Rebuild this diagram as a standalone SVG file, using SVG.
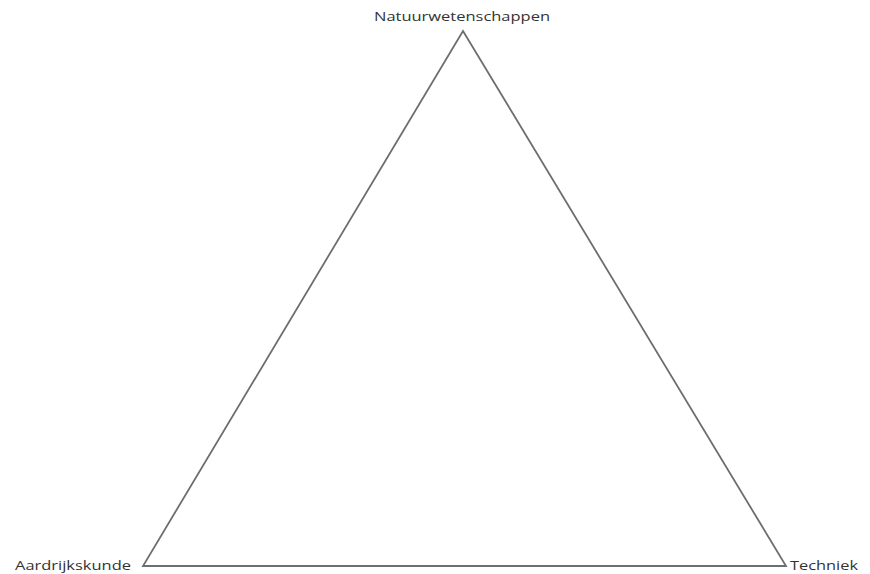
<svg xmlns="http://www.w3.org/2000/svg" width="870" height="574" viewBox="0 0 870 574">
<style>
text{font-family:"Open Sans","Liberation Sans",sans-serif;font-size:13px;fill:#333}
.edge{fill:none;stroke:#6e6e6e;stroke-width:1.8;stroke-linejoin:miter}
</style>
<rect width="870" height="574" fill="#fff"/>
<g id="connectors">
<polygon class="edge" points="463,31 786,566 143,566"/>
</g>
<g id="n-natuur"><text x="462" y="21" text-anchor="middle" textLength="176" lengthAdjust="spacingAndGlyphs">Natuurwetenschappen</text></g>
<g id="n-aardrijk"><text x="15" y="570" textLength="116" lengthAdjust="spacingAndGlyphs">Aardrijkskunde</text></g>
<g id="n-techniek"><text x="790" y="570" textLength="68" lengthAdjust="spacingAndGlyphs">Techniek</text></g>
</svg>
